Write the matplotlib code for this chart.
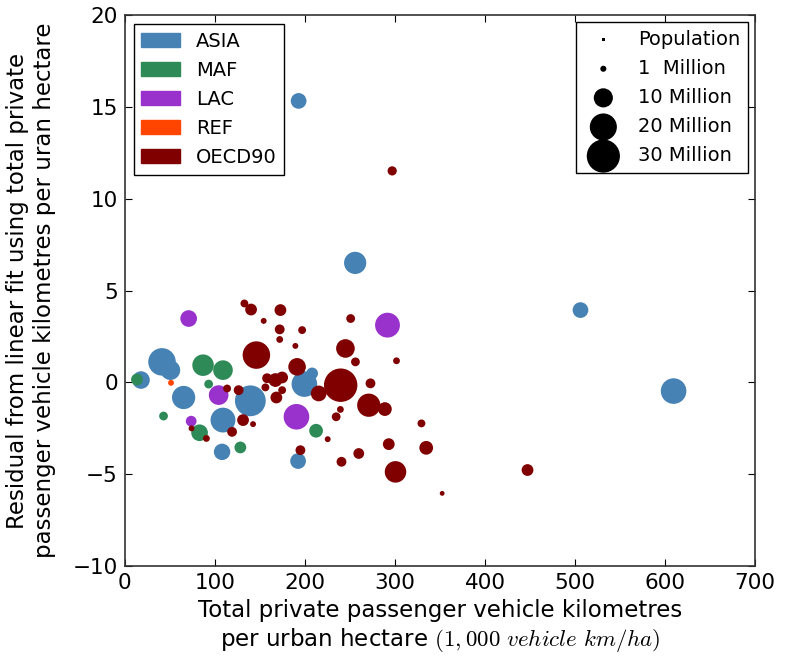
import numpy as np
import matplotlib
matplotlib.use('Agg')
import matplotlib.pyplot as plt
from matplotlib.patches import Patch

plt.rcParams['mathtext.fontset'] = 'cm'
plt.rcParams['font.family'] = 'DejaVu Sans'

# region data: x (1,000 vehicle km/ha), residual, population (millions)
asia_x = [18, 41.3, 50.6, 65.3, 109, 108, 139.4, 199.4, 208, 192.4, 193, 255.8, 506, 609.4]
asia_y = [0.13, 1.12, 0.67, -0.82, -2.05, -3.78, -1.0, -0.09, 0.49, -4.28, 15.33, 6.51, 3.94, -0.47]
asia_pop = [8, 19.6, 10, 14, 16, 7, 24.6, 17, 3.6, 6.4, 6.4, 12.8, 6.4, 17]

maf_x = [13.5, 86.9, 109, 93.1, 43.0, 83.0, 128.3, 212.4]
maf_y = [0.16, 0.94, 0.67, -0.09, -1.83, -2.74, -3.54, -2.63]
maf_pop = [3.6, 12, 10, 2, 2, 7.2, 3.6, 4.9]

lac_x = [70.9, 104.2, 73.7, 190.6, 291.7]
lac_y = [3.48, -0.69, -2.11, -1.87, 3.12]
lac_pop = [7.2, 10, 3, 17, 16]

ref_x = [51.3]
ref_y = [-0.02]
ref_pop = [0.9]

oecd_x = [74.1, 90.6, 119.1, 131.3, 142.4, 126.4, 113.6, 132.8, 140.2, 172.8,
          154.2, 172, 196.9, 172, 189.4, 146.1, 191.3, 167.2, 174.7, 168.3,
          156.1, 174.7, 215.3, 245, 256.1, 301.7, 250.8, 239.7, 272.8, 270.9,
          288.8, 239.4, 234.7, 329.4, 225.3, 195, 240.6, 259.8, 293.1, 300.6,
          334.7, 352.4, 447.2, 296.9, 158]
oecd_y = [-2.5, -3.05, -2.69, -2.05, -2.27, -0.42, -0.33, 4.3, 3.97, 3.94,
          3.35, 2.89, 2.85, 2.34, 1.99, 1.49, 0.85, 0.13, 0.27, -0.82,
          -0.27, -0.42, -0.6, 1.85, 1.12, 1.18, 3.48, -0.15, -0.05, -1.24,
          -1.45, -1.47, -1.87, -2.23, -3.09, -3.69, -4.32, -3.87, -3.36, -4.87,
          -3.56, -6.04, -4.77, 11.52, 0.23]
oecd_pop = [0.9, 1.2, 2.5, 3.6, 0.9, 2.5, 1.6, 1.6, 3.6, 3.6,
            0.9, 2.5, 1.6, 1.2, 0.9, 19.6, 8, 4.9, 3.6, 3.6,
            1.6, 1.6, 6.4, 9, 2, 1.2, 2, 29, 2.5, 14,
            4.9, 1.2, 2, 1.6, 0.9, 2.5, 2.5, 3, 3.6, 12,
            4.9, 0.6, 3.6, 2.2, 2.5]

regions = ['ASIA', 'MAF', 'LAC', 'REF', 'OECD90']
colors = ['steelblue', 'seagreen', 'darkorchid', 'orangered', 'maroon']

size_labels = ['Population', '1  Million', '10 Million', '20 Million', '30 Million']
size_pops = [1, 10, 20, 30]

scale = 19  # marker area (pt^2) per million people, legend

fig = plt.figure(figsize=(7.85, 6.59), dpi=100)
ax = fig.add_axes([0.159, 0.141, 0.803, 0.836])

data = [(asia_x, asia_y, asia_pop), (maf_x, maf_y, maf_pop), (lac_x, lac_y, lac_pop),
        (ref_x, ref_y, ref_pop), (oecd_x, oecd_y, oecd_pop)]
for (xs, ys, ps), c in zip(data, colors):
    ax.scatter(xs, ys, s=np.array(ps) * 20, c=c, edgecolors='none', zorder=2)

ax.set_xlim(0, 700)
ax.set_ylim(-10, 20)
ax.tick_params(direction='in', top=True, right=True, labelsize=15.5, length=5, pad=5)
for sp in ax.spines.values():
    sp.set_linewidth(1.2)
    sp.set_color('#333333')

ax.set_xlabel('Total private passenger vehicle kilometres\nper urban hectare $(1,000\\ vehicle\\ km/ha)$',
              fontsize=16.5, labelpad=4)
ax.set_ylabel('Residual from linear fit using total private\npassenger vehicle kilometres per uran hectare',
              fontsize=16.5, labelpad=12)

# region colour legend
patches = [Patch(facecolor=c, edgecolor=c, label=r) for r, c in zip(regions, colors)]
leg1 = ax.legend(handles=patches, loc='upper left', fontsize=14, fancybox=False,
                 edgecolor='black', framealpha=1, handlelength=2.0, handleheight=0.75,
                 labelspacing=0.52, borderaxespad=0.45)
leg1.get_frame().set_linewidth(1.0)
ax.add_artist(leg1)

# population size legend
handles = [ax.scatter([], [], s=3, c='black', marker='s', edgecolors='none')]
handles += [ax.scatter([], [], s=p * scale, c='black', edgecolors='none') for p in size_pops]
leg2 = ax.legend(handles, size_labels, loc='upper right', fontsize=14, fancybox=False,
                 edgecolor='black', framealpha=1, scatterpoints=1, labelspacing=0.52,
                 borderaxespad=0.35)
leg2.get_frame().set_linewidth(1.0)

fig.savefig('out.png', dpi=100)
